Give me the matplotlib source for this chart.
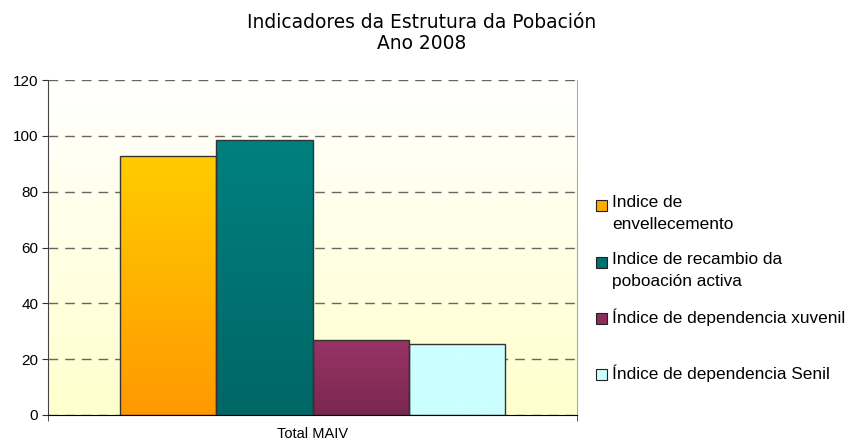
import numpy as np
import matplotlib
matplotlib.use("Agg")
import matplotlib.pyplot as plt
from matplotlib.patches import Rectangle
from matplotlib.colors import LinearSegmentedColormap

plt.rcParams['font.family'] = ['Liberation Sans', 'DejaVu Sans']
plt.rcParams['lines.scale_dashes'] = False

title = "Indicadores da Estrutura da Pobación\nAno 2008"
category = "Total MAIV"
series = ["Indice de\nenvellecemento",
          "Indice de recambio da\npoboación activa",
          "Índice de dependencia xuvenil",
          "Índice de dependencia Senil"]
values = [92.9, 98.6, 27.0, 25.5]
yticks = [0, 20, 40, 60, 80, 100, 120]
top_colors = ["#FFCC00", "#008080", "#993366", "#CCFFFF"]
bottom_colors = ["#FF9900", "#006666", "#7A2850", "#CCFFFF"]
legend_colors = ["#FFAA00", "#007070", "#8A2E5C", "#CCFFFF"]

W, H = 849, 442
fig = plt.figure(figsize=(W / 100, H / 100), dpi=100)
ax = fig.add_axes([48 / W, 1 - 415 / H, (577 - 48) / W, (415 - 80) / H])

ax.set_xlim(-0.5, 0.5)
ax.set_ylim(0, 120)

# background gradient: white at top -> light yellow at bottom
bg = LinearSegmentedColormap.from_list("bg", ["#FFFFCC", "#FFFFFF"])
grad = np.linspace(0, 1, 256).reshape(-1, 1)
ax.imshow(grad, cmap=bg, aspect='auto', origin='lower',
          extent=[-0.5, 0.5, 0, 120], zorder=0)

# grid
ax.set_yticks(yticks)
ax.yaxis.grid(True, color='#666666', linestyle=(0, (7, 5)), linewidth=1.0, zorder=1)
ax.set_axisbelow(True)

n = len(values)
bw = 0.182
offsets = (np.arange(n) - (n - 1) / 2) * bw
bars = ax.bar(offsets, values, width=bw, color='none', edgecolor='#333333',
              linewidth=1.0, zorder=3)
for b, tc, bc in zip(bars, top_colors, bottom_colors):
    cmap = LinearSegmentedColormap.from_list("g", [bc, tc])
    x0, y0, w, h = b.get_x(), b.get_y(), b.get_width(), b.get_height()
    im = ax.imshow(grad, cmap=cmap, aspect='auto', origin='lower',
                   extent=[x0, x0 + w, y0, y0 + h], zorder=2)
    im.set_clip_path(b)
ax.set_xlim(-0.5, 0.5)
ax.set_ylim(0, 120)

ax.set_xticks([0])
ax.set_xticklabels([category], fontsize=10.5)
ax.tick_params(axis='x', length=0, pad=9)
ax.set_xticks([-0.5, 0.5], minor=True)
ax.tick_params(axis='x', which='minor', length=4, color='#333333')
ax.tick_params(axis='y', length=4, labelsize=11, color='#333333', pad=3)

ax.spines['top'].set_visible(False)
ax.spines['right'].set_color('#AAAAAA')
ax.spines['left'].set_color('#444444')
ax.spines['bottom'].set_color('#000000')

# title
fig.text(422 / W, 1 - 33 / H, title, ha='center', va='center',
         fontsize=13.4, family='DejaVu Sans', linespacing=1.12)

# legend (manual, marker aligned with first line)
ys = [205, 262, 318, 374]
for lbl, col, y in zip(series, legend_colors, ys):
    fig.add_artist(Rectangle((596 / W, 1 - (y + 6) / H), 11 / W, 11 / H,
                             transform=fig.transFigure, facecolor=col,
                             edgecolor='#222222', linewidth=0.8))
    fig.text(612 / W, 1 - (y - 10) / H, lbl, ha='left', va='top',
             fontsize=12.4, linespacing=1.55)

fig.savefig("out.png", dpi=100)
